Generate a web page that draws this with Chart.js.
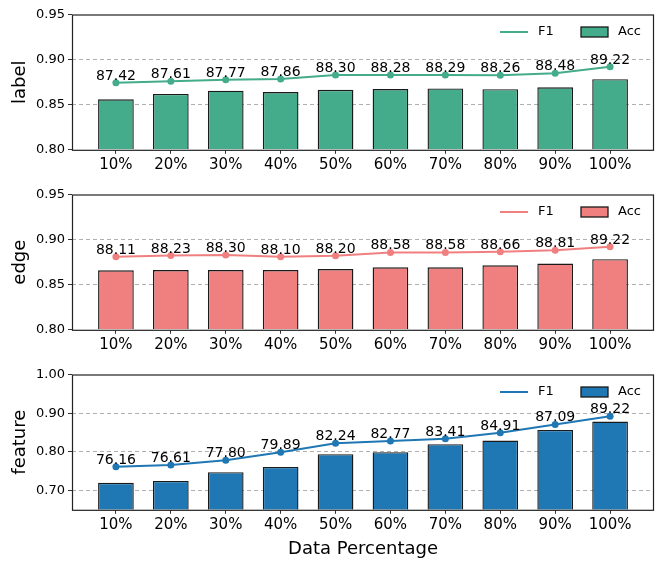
<!DOCTYPE html>
<html>
<head>
<meta charset="utf-8">
<script src="https://cdn.jsdelivr.net/npm/chart.js@4.4.1/dist/chart.umd.min.js"></script>
<style>
  body { margin: 0; background: #fff; }
  #wrap { position: relative; width: 664px; height: 568px; }
  canvas { position: absolute; left: 0; }
</style>
</head>
<body>
<div id="wrap">
  <canvas id="c1" width="664" height="180" style="top:0px"></canvas>
  <canvas id="c2" width="664" height="180" style="top:180px"></canvas>
  <canvas id="c3" width="664" height="208" style="top:360px"></canvas>
</div>
<script>
const categories = ['10%', '20%', '30%', '40%', '50%', '60%', '70%', '80%', '90%', '100%'];

const labelAcc = [0.856, 0.862, 0.8656, 0.8641, 0.8665, 0.8673, 0.868, 0.8672, 0.8693, 0.8783];
const labelF1 = [87.42, 87.61, 87.77, 87.86, 88.30, 88.28, 88.29, 88.26, 88.48, 89.22];
const edgeAcc = [0.866, 0.8663, 0.8663, 0.8663, 0.8673, 0.8693, 0.8693, 0.8715, 0.8734, 0.8783];
const edgeF1 = [88.11, 88.23, 88.30, 88.10, 88.20, 88.58, 88.58, 88.66, 88.81, 89.22];
const featAcc = [0.7197, 0.7248, 0.7473, 0.761, 0.794, 0.799, 0.8197, 0.829, 0.8567, 0.8784];
const featF1 = [76.16, 76.61, 77.80, 79.89, 82.24, 82.77, 83.41, 84.91, 87.09, 89.22];

const labelTicks = [0.80, 0.85, 0.90, 0.95];
const edgeTicks = [0.80, 0.85, 0.90, 0.95];
const featTicks = [0.70, 0.80, 0.90, 1.00];

const FONT = 'DejaVu Sans';

// frame, value labels and the legend inside the plot
const extras = {
  id: 'extras',
  afterDatasetsDraw(chart) {
    const ctx = chart.ctx;
    const a = chart.chartArea;
    const line = chart.data.datasets[0];
    const bar = chart.data.datasets[1];
    const f1 = chart.options.plugins.extras.f1;

    ctx.save();
    // value labels above the F1 points
    ctx.font = '14px ' + FONT;
    ctx.fillStyle = '#000';
    ctx.textAlign = 'center';
    ctx.textBaseline = 'alphabetic';
    chart.getDatasetMeta(0).data.forEach((p, i) => {
      ctx.fillText(f1[i].toFixed(2), p.x, p.y - 3);
    });

    // frame
    ctx.strokeStyle = '#222';
    ctx.lineWidth = 1.2;
    ctx.setLineDash([]);
    ctx.strokeRect(a.left + 0.5, a.top + 0.5, a.right - a.left - 1, a.bottom - a.top);

    // legend
    const ly = a.top + 17.5;
    const lx = a.right - 154;
    ctx.strokeStyle = line.borderColor;
    ctx.lineWidth = 2;
    ctx.beginPath();
    ctx.moveTo(lx, ly);
    ctx.lineTo(lx + 28, ly);
    ctx.stroke();
    ctx.font = '13px ' + FONT;
    ctx.textAlign = 'left';
    ctx.textBaseline = 'middle';
    ctx.fillStyle = '#000';
    ctx.fillText(line.label, lx + 38, ly);
    ctx.fillStyle = bar.backgroundColor;
    ctx.fillRect(lx + 81, ly - 5, 27, 10);
    ctx.strokeStyle = '#1a1a1a';
    ctx.lineWidth = 1.3;
    ctx.strokeRect(lx + 81, ly - 5, 27, 10);
    ctx.fillStyle = '#000';
    ctx.fillText(bar.label, lx + 118, ly);
    ctx.restore();
  }
};

function makePanel(id, acc, f1, ticks, yMin, yMax, color, title, xTitle) {
  const canvas = document.getElementById(id);
  const H = canvas.height;
  const plotTop = 14.5, plotH = 135.3;
  new Chart(canvas.getContext('2d'), {
    type: 'bar',
    data: {
      datasets: [{
        type: 'line',
        label: 'F1',
        data: f1.map((v, i) => ({ x: i, y: v / 100 })),
        borderColor: color,
        backgroundColor: color,
        borderWidth: 2,
        pointRadius: 3.5,
        pointBorderWidth: 0,
        pointBackgroundColor: color,
        order: 0
      }, {
        label: 'Acc',
        data: acc.map((v, i) => ({ x: i, y: v })),
        backgroundColor: color,
        borderColor: '#1a1a1a',
        borderWidth: 1.4,
        borderSkipped: 'bottom',
        base: yMin,
        barPercentage: 0.65,
        categoryPercentage: 1,
        order: 1
      }]
    },
    options: {
      responsive: false,
      animation: false,
      devicePixelRatio: 1,
      layout: { padding: { top: plotTop, right: 10, left: 0, bottom: 0 } },
      plugins: {
        legend: { display: false },
        tooltip: { enabled: false },
        extras: { f1: f1 }
      },
      scales: {
        x: {
          type: 'linear',
          offset: false,
          min: -0.8,
          max: 9.8,
          afterBuildTicks: s => { s.ticks = categories.map((c, i) => ({ value: i })); },
          afterFit: s => { s.height = H - plotTop - plotH; },
          ticks: {
            callback: v => categories[v],
            font: { family: FONT, size: 15 },
            color: '#000',
            padding: 2,
            maxRotation: 0,
            autoSkip: false
          },
          grid: { offset: false, drawOnChartArea: false, tickLength: 4, tickColor: '#333' },
          border: { display: false },
          title: {
            display: !!xTitle,
            text: xTitle || '',
            font: { family: FONT, size: 18 },
            color: '#000',
            padding: { top: 2, bottom: 8 }
          }
        },
        y: {
          min: yMin,
          max: yMax,
          afterBuildTicks: s => { s.ticks = ticks.map(v => ({ value: v })); },
          afterFit: s => { s.width = 72; },
          ticks: {
            callback: v => v.toFixed(2),
            font: { family: FONT, size: 13 },
            color: '#000',
            padding: 3
          },
          grid: {
            color: c => (c.tick && (Math.abs(c.tick.value - yMin) < 1e-6 || Math.abs(c.tick.value - yMax) < 1e-6)) ? 'rgba(0,0,0,0)' : '#b0b0b0',
            tickLength: 4,
            tickColor: '#333',
            tickBorderDash: []
          },
          border: { display: false, dash: [4, 3] },
          title: {
            display: true,
            text: title,
            font: { family: FONT, size: 18 },
            color: '#000',
            padding: { top: 10, bottom: 0 }
          }
        }
      }
    },
    plugins: [extras]
  });
}

makePanel('c1', labelAcc, labelF1, labelTicks, 0.80, 0.95, 'rgb(68,171,139)', 'label');
makePanel('c2', edgeAcc, edgeF1, edgeTicks, 0.80, 0.95, 'rgb(240,128,128)', 'edge');
makePanel('c3', featAcc, featF1, featTicks, 0.65, 1.00, 'rgb(31,119,180)', 'feature', 'Data Percentage');
</script>
</body>
</html>
